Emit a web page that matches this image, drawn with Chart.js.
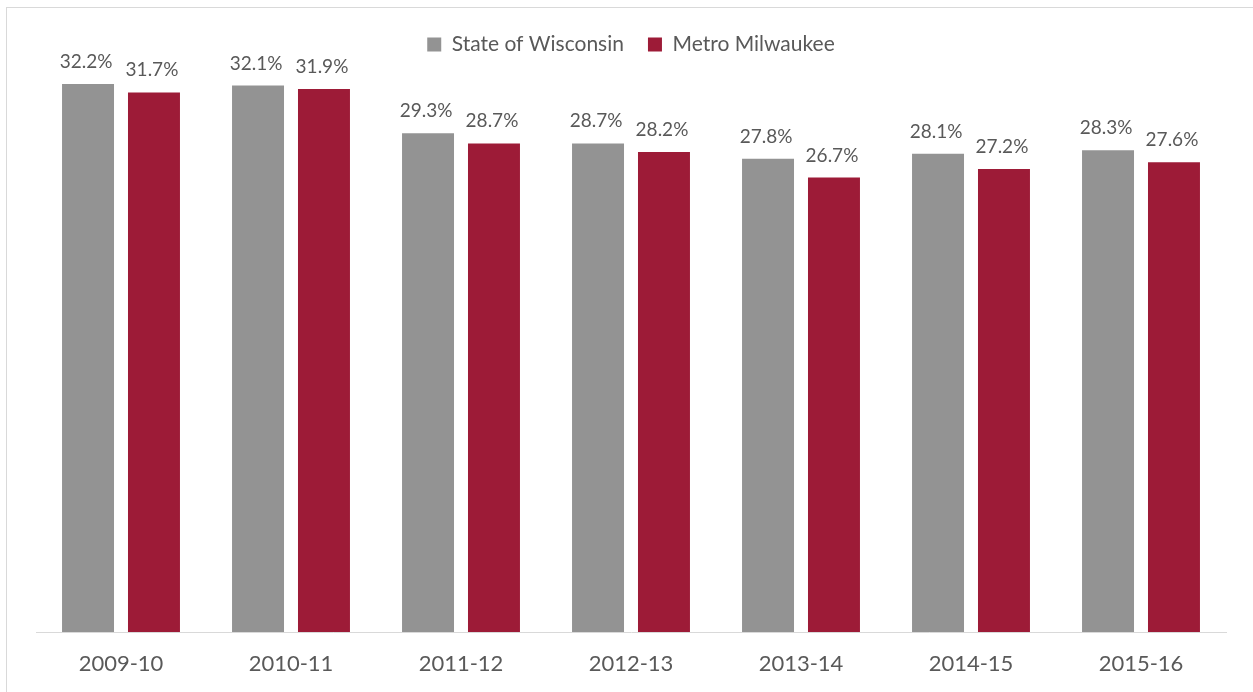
<!DOCTYPE html>
<html>
<head>
<meta charset="utf-8">
<script src="https://cdn.jsdelivr.net/npm/chart.js@4.4.0/dist/chart.umd.min.js"></script>
<style>
  html, body { margin: 0; padding: 0; background: #fff; overflow: hidden; }
  #frame { position: absolute; left: 6px; top: 7px; width: 1300px; height: 800px; border: 1px solid #d9d9d9; }
  #wrap { position: absolute; left: 0; top: 0; width: 1253px; height: 692px; }
</style>
</head>
<body>
<div id="frame"></div>
<div id="wrap"><canvas id="grafico"></canvas></div>
<script>
const years = ['2009-10', '2010-11', '2011-12', '2012-13', '2013-14', '2014-15', '2015-16'];
const wisconsin = [32.2, 32.1, 29.3, 28.7, 27.8, 28.1, 28.3];
const milwaukee = [31.7, 31.9, 28.7, 28.2, 26.7, 27.2, 27.6];

const textColor = '#595959';
const fontFamily = 'Lato, "Open Sans", sans-serif';

// etiquetas de valor encima de cada barra
const valueLabels = {
    id: 'valueLabels',
    afterDatasetsDraw(chart) {
        const ctx = chart.ctx;
        ctx.save();
        ctx.font = '19px ' + fontFamily;
        ctx.fillStyle = textColor;
        ctx.textAlign = 'center';
        ctx.textBaseline = 'alphabetic';
        chart.data.datasets.forEach(function (ds, i) {
            chart.getDatasetMeta(i).data.forEach(function (bar, j) {
                ctx.fillText(ds.data[j].toFixed(1) + '%', bar.x - 2, bar.y - 16);
            });
        });
        ctx.restore();
    }
};

const ctx = document.getElementById('grafico').getContext('2d');
new Chart(ctx, {
    type: 'bar',
    data: {
        labels: years,
        datasets: [{
            label: 'State of Wisconsin',
            data: wisconsin,
            backgroundColor: '#939393'
        }, {
            label: 'Metro Milwaukee',
            data: milwaukee,
            backgroundColor: '#9d1b37'
        }]
    },
    options: {
        responsive: true,
        maintainAspectRatio: false,
        animation: false,
        categoryPercentage: 0.776,
        barPercentage: 0.788,
        layout: {
            padding: { left: 36, right: 27, top: 10, bottom: 0 }
        },
        plugins: {
            legend: {
                position: 'top',
                labels: {
                    boxWidth: 14,
                    boxHeight: 14,
                    padding: 24,
                    color: textColor,
                    font: { family: fontFamily, size: 21 }
                }
            },
            tooltip: { enabled: false }
        },
        scales: {
            x: {
                grid: { display: false, drawTicks: false },
                border: { color: '#d9d9d9', width: 1 },
                ticks: {
                    color: textColor,
                    padding: 19,
                    font: { family: fontFamily, size: 22 }
                },
                afterFit: function (scale) {
                    scale.height = 60;
                }
            },
            y: {
                display: false,
                min: 0,
                max: 33.31
            }
        }
    },
    plugins: [valueLabels]
});
</script>
</body>
</html>
